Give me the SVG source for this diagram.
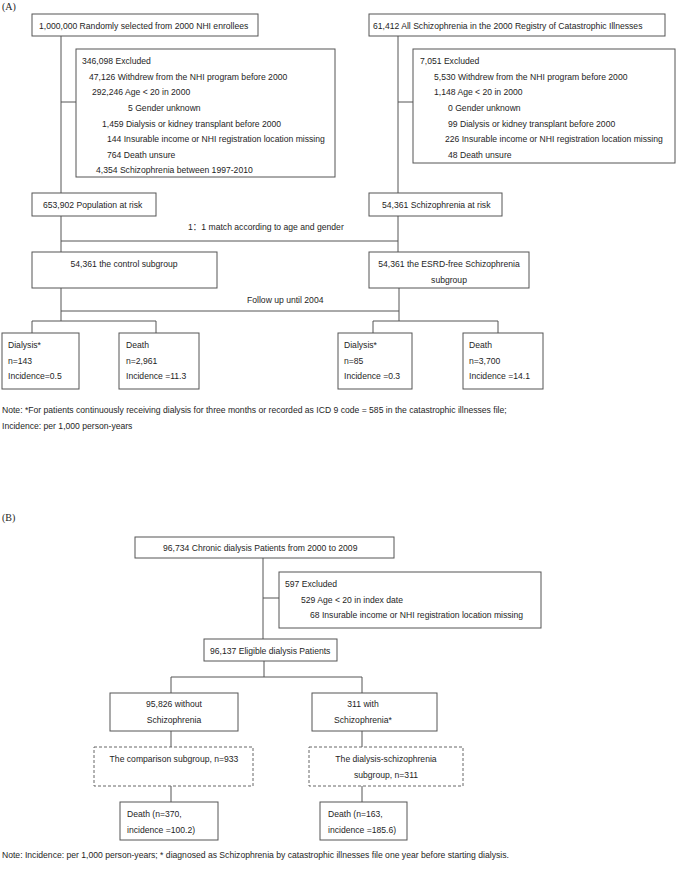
<svg xmlns="http://www.w3.org/2000/svg" width="676" height="871" viewBox="0 0 676 871">
<style>
text{font-family:"Liberation Sans","Noto Sans CJK SC",sans-serif;font-size:8.6px;fill:#1e1e1e}
.lbl{font-family:"Liberation Serif",serif;font-size:10px}
.c{text-anchor:middle}
.box{fill:#fff;stroke:#555;stroke-width:1}
.dash{fill:#fff;stroke:#666;stroke-width:1;stroke-dasharray:3 2}
#connectors line{stroke:#555;stroke-width:1}
</style>
<rect width="676" height="871" fill="#fff"/>
<g id="connectors">
<line x1="61" y1="36" x2="61" y2="193"/>
<line x1="61" y1="102" x2="76" y2="102"/>
<line x1="398" y1="36" x2="398" y2="193"/>
<line x1="398" y1="102" x2="413" y2="102"/>
<line x1="61" y1="216" x2="61" y2="252"/>
<line x1="398" y1="216" x2="398" y2="252"/>
<line x1="61" y1="241" x2="398" y2="241"/>
<line x1="61" y1="288" x2="61" y2="321"/>
<line x1="399" y1="288" x2="399" y2="321"/>
<line x1="61" y1="311" x2="399" y2="311"/>
<line x1="32" y1="321" x2="156" y2="321"/>
<line x1="32" y1="321" x2="32" y2="333"/>
<line x1="156" y1="321" x2="156" y2="333"/>
<line x1="373" y1="321" x2="498" y2="321"/>
<line x1="373" y1="321" x2="373" y2="333"/>
<line x1="498" y1="321" x2="498" y2="333"/>
<line x1="263" y1="558" x2="263" y2="639"/>
<line x1="263" y1="598" x2="279" y2="598"/>
<line x1="264" y1="661" x2="264" y2="677"/>
<line x1="171" y1="677" x2="362" y2="677"/>
<line x1="171" y1="677" x2="171" y2="693"/>
<line x1="362" y1="677" x2="362" y2="693"/>
<line x1="171" y1="731" x2="171" y2="747"/>
<line x1="362" y1="731" x2="362" y2="747"/>
<line x1="171" y1="786" x2="171" y2="802"/>
<line x1="362" y1="786" x2="362" y2="802"/>
</g>
<text class="lbl" x="2" y="10">(A)</text>
<g id="a-enrollees"><rect class="box" x="32" y="14" width="226" height="22"/><text x="39" y="29">1,000,000 Randomly selected from 2000 NHI enrollees</text></g>
<g id="a-schizo-all"><rect class="box" x="369" y="14" width="296" height="22"/><text x="373" y="29">61,412 All Schizophrenia in the 2000 Registry of Catastrophic Illnesses</text></g>
<g id="a-excl-left"><rect class="box" x="76" y="49" width="259" height="128"/>
<text x="82" y="64">346,098 Excluded</text>
<text x="89" y="80">47,126 Withdrew from the NHI program before 2000</text>
<text x="92" y="95">292,246 Age &lt; 20 in 2000</text>
<text x="128" y="111">5 Gender unknown</text>
<text x="102" y="127">1,459 Dialysis or kidney transplant before 2000</text>
<text x="107" y="142">144 Insurable income or NHI registration location missing</text>
<text x="107" y="158">764 Death unsure</text>
<text x="96" y="173">4,354 Schizophrenia between 1997-2010</text></g>
<g id="a-excl-right"><rect class="box" x="413" y="49" width="262" height="114"/>
<text x="420" y="64">7,051 Excluded</text>
<text x="434" y="80">5,530 Withdrew from the NHI program before 2000</text>
<text x="434" y="95">1,148 Age &lt; 20 in 2000</text>
<text x="448" y="111">0 Gender unknown</text>
<text x="448" y="127">99 Dialysis or kidney transplant before 2000</text>
<text x="445" y="142">226 Insurable income or NHI registration location missing</text>
<text x="448" y="158">48 Death unsure</text></g>
<g id="a-pop-risk"><rect class="box" x="32" y="193" width="124" height="23"/><text x="43" y="208">653,902 Population at risk</text></g>
<g id="a-schizo-risk"><rect class="box" x="369" y="193" width="133" height="23"/><text x="382" y="208">54,361 Schizophrenia at risk</text></g>
<text x="188" y="230">1：1 match according to age and gender</text>
<g id="a-control"><rect class="box" x="32" y="252" width="185" height="36"/><text class="c" x="124" y="267">54,361 the control subgroup</text></g>
<g id="a-esrd"><rect class="box" x="369" y="252" width="160" height="36"/><text class="c" x="449" y="267">54,361 the ESRD-free Schizophrenia</text><text class="c" x="449" y="283">subgroup</text></g>
<text x="247" y="303">Follow up until 2004</text>
<g id="a-dial-left"><rect class="box" x="2" y="333" width="77" height="56"/><text x="8" y="348">Dialysis*</text><text x="8" y="364">n=143</text><text x="8" y="379">Incidence=0.5</text></g>
<g id="a-death-left"><rect class="box" x="119" y="333" width="80" height="56"/><text x="126" y="348">Death</text><text x="126" y="364">n=2,961</text><text x="126" y="379">Incidence =11.3</text></g>
<g id="a-dial-right"><rect class="box" x="338" y="333" width="74" height="56"/><text x="344" y="348">Dialysis*</text><text x="344" y="364">n=85</text><text x="344" y="379">Incidence =0.3</text></g>
<g id="a-death-right"><rect class="box" x="463" y="333" width="80" height="56"/><text x="469" y="348">Death</text><text x="469" y="364">n=3,700</text><text x="469" y="379">Incidence =14.1</text></g>
<text x="2" y="413">Note: *For patients continuously receiving dialysis for three months or recorded as ICD 9 code = 585 in the catastrophic illnesses file;</text>
<text x="2" y="429">Incidence: per 1,000 person-years</text>
<text class="lbl" x="2" y="521">(B)</text>
<g id="b-chronic"><rect class="box" x="135" y="537" width="259" height="21"/><text x="163" y="551">96,734 Chronic dialysis Patients from 2000 to 2009</text></g>
<g id="b-excl"><rect class="box" x="279" y="572" width="262" height="56"/>
<text x="285" y="587">597 Excluded</text>
<text x="301" y="603">529 Age &lt; 20 in index date</text>
<text x="310" y="618">68 Insurable income or NHI registration location missing</text></g>
<g id="b-eligible"><rect class="box" x="204" y="639" width="133" height="22"/><text x="210" y="654">96,137 Eligible dialysis Patients</text></g>
<g id="b-without"><rect class="box" x="110" y="693" width="128" height="38"/><text class="c" x="174" y="707">95,826 without</text><text class="c" x="174" y="723">Schizophrenia</text></g>
<g id="b-with"><rect class="box" x="312" y="693" width="125" height="38"/><text class="c" x="363" y="707">311 with</text><text class="c" x="363" y="723">Schizophrenia*</text></g>
<g id="b-comparison"><rect class="dash" x="94" y="747" width="159" height="39"/><text class="c" x="174" y="762">The comparison subgroup, n=933</text></g>
<g id="b-dial-schizo"><rect class="dash" x="309" y="747" width="154" height="39"/><text class="c" x="386" y="762">The dialysis-schizophrenia</text><text class="c" x="386" y="778">subgroup, n=311</text></g>
<g id="b-death-left"><rect class="box" x="120" y="802" width="98" height="38"/><text x="127" y="817">Death (n=370,</text><text x="127" y="833">incidence =100.2)</text></g>
<g id="b-death-right"><rect class="box" x="320" y="802" width="87" height="38"/><text x="328" y="817">Death (n=163,</text><text x="328" y="833">incidence =185.6)</text></g>
<text x="2" y="858">Note: Incidence: per 1,000 person-years; * diagnosed as Schizophrenia by catastrophic illnesses file one year before starting dialysis.</text>
</svg>
